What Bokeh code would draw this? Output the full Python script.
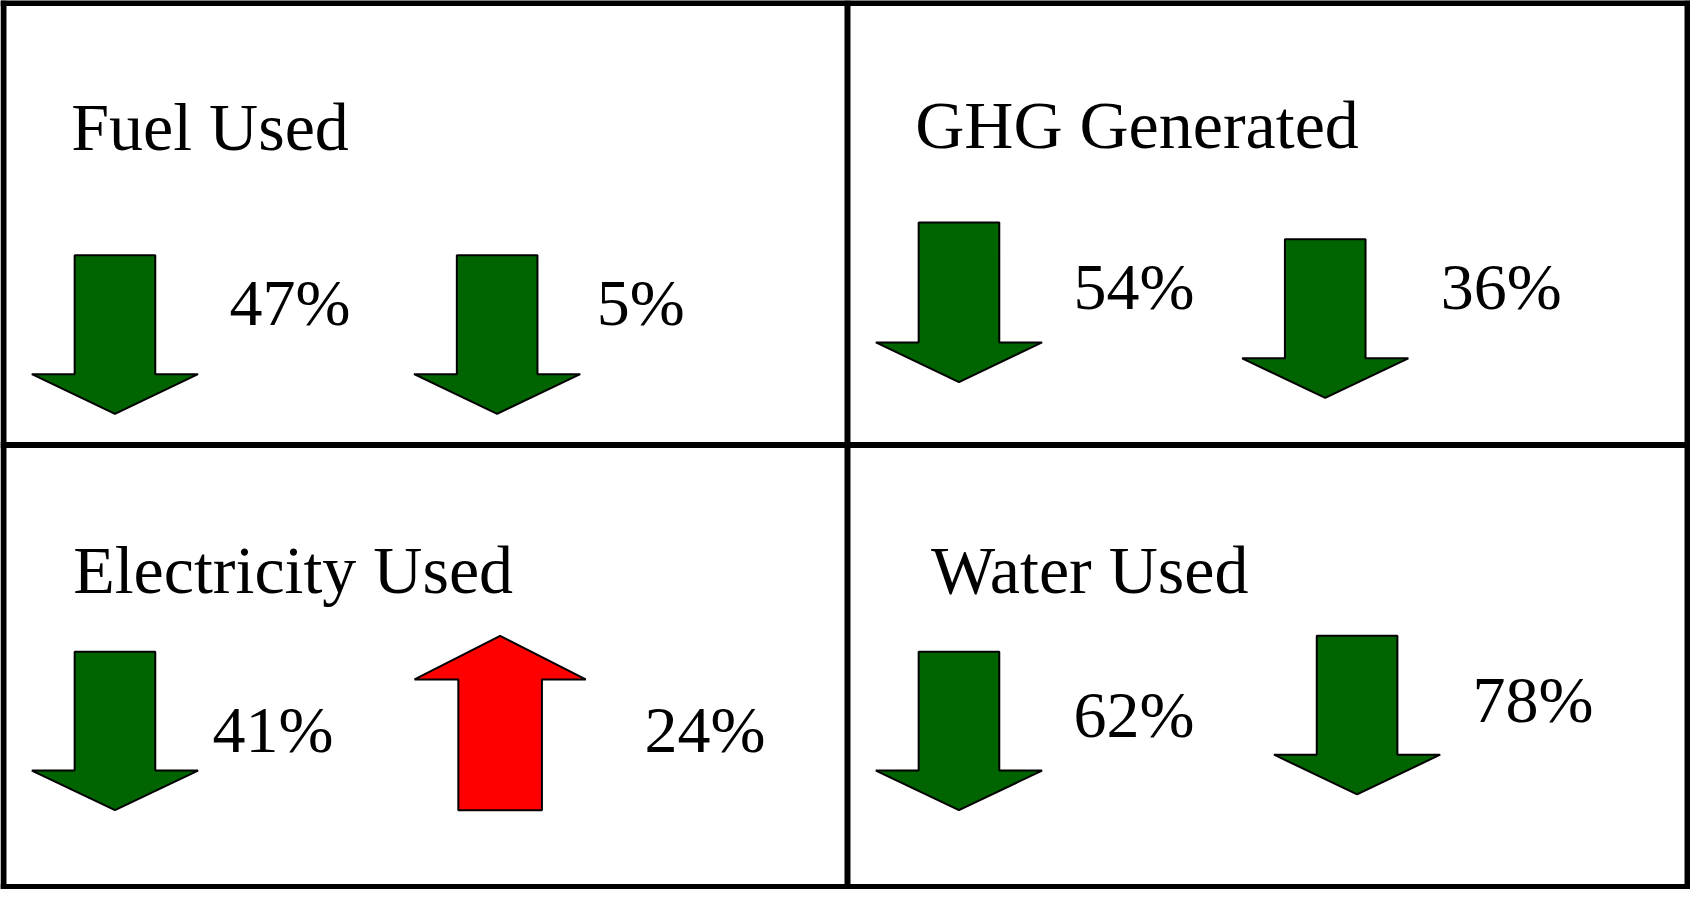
from bokeh.plotting import figure
from bokeh.models import Range1d, ColumnDataSource
from bokeh.core.properties import value
from bokeh.embed import file_html
from bokeh.resources import INLINE

# ---- data ----
panels = ["Fuel Used", "GHG Generated", "Electricity Used", "Water Used"]
first_pct = [47, 54, 41, 62]
second_pct = [5, 36, 24, 78]
first_dir = ["down", "down", "down", "down"]
second_dir = ["down", "down", "up", "down"]

# ---- layout (reference pixel coordinates) ----
W, H = 1698, 897
title_pos = [(71, 150), (919, 148), (73, 597), (935, 597)]
# arrow: (center x, y of upper end, y of lower end)
arrow1_pos = [(115, 257, 417), (963, 224, 385), (115, 657, 817), (963, 657, 817)]
arrow2_pos = [(499, 257, 417), (1331, 241, 401), (502, 641, 817), (1363, 641, 801)]
label1_pos = [(230, 327), (1078, 311), (213, 758), (1078, 743)]
label2_pos = [(599, 327), (1447, 311), (647, 758), (1479, 727)]

GREEN = "#006400"
RED = "#FF0000"
FONT = "Liberation Serif"
TEXT_SHIFT = -22  # screen px correction for the svg text baseline

p = figure(width=1690, height=889, output_backend="svg", toolbar_location=None,
           x_range=Range1d(0, W), y_range=Range1d(H, 0), min_border=0,
           background_fill_color="white", border_fill_color="white")
p.axis.visible = False
p.grid.visible = False
p.outline_line_color = None


def arrow(cx, y0, y1, direction):
    if direction == "down":
        sw, hw, hh = 40.5, 83.5, 40
        top, tip = y0, y1
        xs = [cx - sw, cx + sw, cx + sw, cx + hw, cx, cx - hw, cx - sw]
        ys = [top, top, tip - hh, tip - hh, tip, tip - hh, tip - hh]
    else:
        sw, hw, hh = 42, 86, 44
        tip, bottom = y0, y1
        xs = [cx - sw, cx + sw, cx + sw, cx + hw, cx, cx - hw, cx - sw]
        ys = [bottom, bottom, tip + hh, tip + hh, tip, tip + hh, tip + hh]
    return xs, ys


axs, ays, acol = [], [], []
for i in range(len(panels)):
    for pos, d in ((arrow1_pos[i], first_dir[i]), (arrow2_pos[i], second_dir[i])):
        xs, ys = arrow(pos[0], pos[1], pos[2], d)
        axs.append(xs)
        ays.append(ys)
        acol.append(GREEN if d == "down" else RED)

p.patches(xs="xs", ys="ys", fill_color="color", line_color="black", line_width=2,
          source=ColumnDataSource(dict(xs=axs, ys=ays, color=acol)))

# titles
p.text(x=[t[0] for t in title_pos], y=[t[1] for t in title_pos], text=panels,
       text_font=value(FONT), text_font_size="68px", text_color="black",
       text_align="left", text_baseline="alphabetic", y_offset=TEXT_SHIFT)

# percentage labels
lx = [q[0] for q in label1_pos] + [q[0] for q in label2_pos]
ly = [q[1] for q in label1_pos] + [q[1] for q in label2_pos]
lt = [f"{v}%" for v in first_pct] + [f"{v}%" for v in second_pct]
p.text(x=lx, y=ly, text=lt, text_font=value(FONT), text_font_size="66px",
       text_color="black", text_align="left", text_baseline="alphabetic",
       y_offset=TEXT_SHIFT)

# frame and dividers
p.segment(x0=[3, W - 3, 0, 0, 851, 0], y0=[0, 0, 2.5, H - 2.5, 0, 448.5],
          x1=[3, W - 3, W, W, 851, W], y1=[H, H, 2.5, H - 2.5, H, 448.5],
          line_color="black", line_width=6)

open("out.html", "w").write(file_html(p, INLINE))
